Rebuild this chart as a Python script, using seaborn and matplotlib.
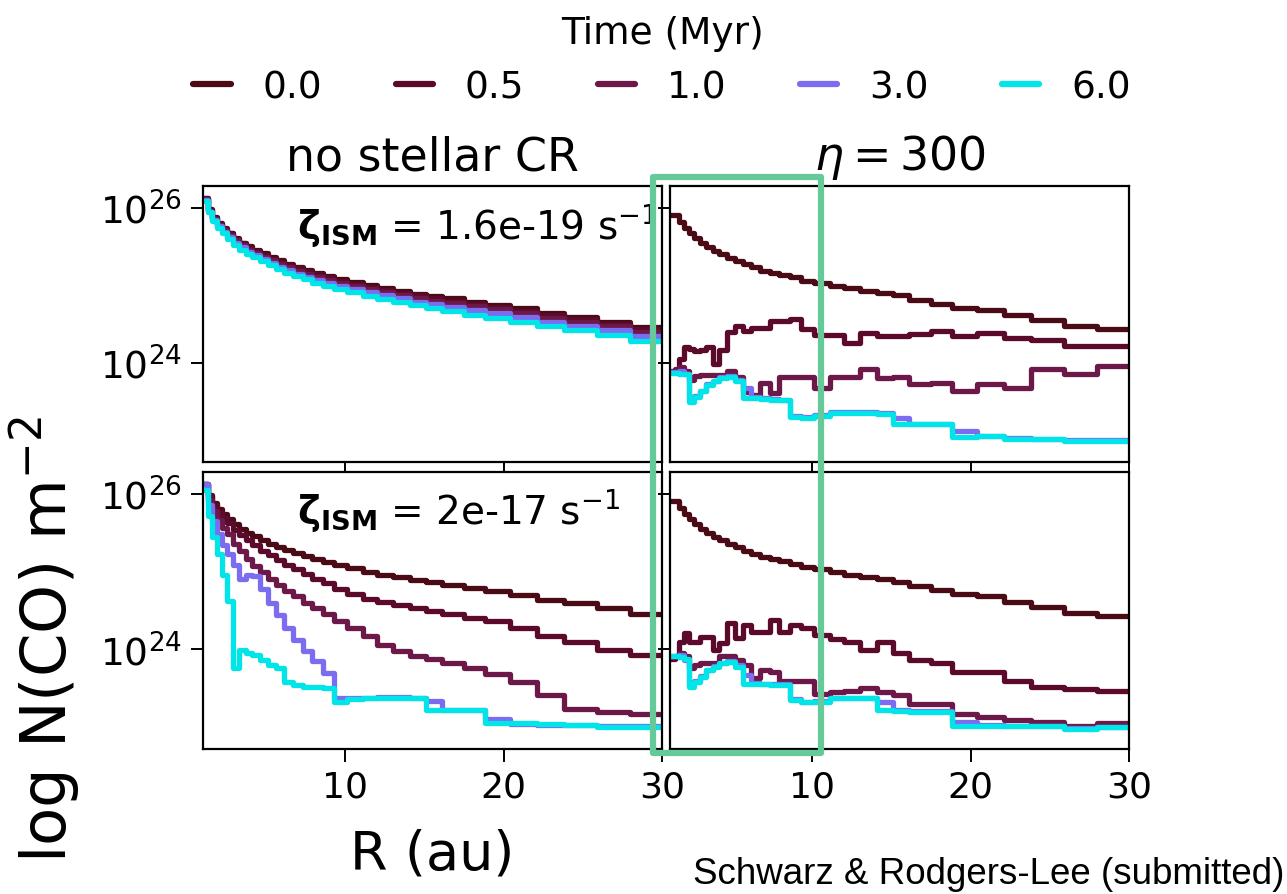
from __future__ import annotations

import matplotlib

matplotlib.use("Agg")
import matplotlib.pyplot as plt
import numpy as np
import pandas as pd
import seaborn as sns
from matplotlib.patches import Rectangle
from matplotlib.ticker import NullLocator


# radial bin edges (au), shared by every curve
R_AU = [1.0, 1.3, 1.6, 1.9, 2.2, 2.5, 2.9, 3.3, 3.7, 4.1, 4.6, 5.1, 5.6, 6.1, 6.7,
        7.3, 7.9, 8.6, 9.3, 10.1, 11.1, 12.0, 13.0, 14.1, 15.1, 16.1, 17.5, 18.8,
        20.4, 22.1, 23.8, 25.9, 28.0, 30.0]

TIMES = ["0.0", "0.5", "1.0", "3.0", "6.0"]
COLORS = ["#4a0a16", "#5c0a2c", "#6c1848", "#7b6cf0", "#00e5e8"]

# log10 N(CO) [m^-2] -- no stellar CR, zeta_ISM = 1.6e-19
nocr_low_00 = [26.12, 25.98, 25.88, 25.80, 25.74, 25.68, 25.61, 25.55, 25.50, 25.46, 25.41, 25.36, 25.32, 25.28, 25.24, 25.20, 25.16, 25.12, 25.08, 25.04, 25.00, 24.96, 24.93, 24.89, 24.86, 24.83, 24.79, 24.75, 24.70, 24.64, 24.59, 24.53, 24.46, 24.46]
nocr_low_05 = [26.12, 25.97, 25.87, 25.79, 25.73, 25.67, 25.60, 25.54, 25.48, 25.44, 25.39, 25.34, 25.30, 25.26, 25.22, 25.18, 25.14, 25.10, 25.06, 25.02, 24.98, 24.94, 24.90, 24.87, 24.84, 24.80, 24.76, 24.72, 24.67, 24.61, 24.56, 24.50, 24.43, 24.43]
nocr_low_10 = [26.11, 25.96, 25.86, 25.78, 25.71, 25.65, 25.58, 25.52, 25.46, 25.42, 25.37, 25.32, 25.27, 25.23, 25.19, 25.15, 25.11, 25.07, 25.03, 24.99, 24.95, 24.91, 24.87, 24.84, 24.80, 24.77, 24.73, 24.69, 24.64, 24.58, 24.53, 24.47, 24.40, 24.40]
nocr_low_30 = [26.10, 25.95, 25.84, 25.76, 25.69, 25.62, 25.55, 25.49, 25.43, 25.39, 25.34, 25.29, 25.24, 25.20, 25.15, 25.11, 25.07, 25.03, 24.99, 24.95, 24.91, 24.87, 24.83, 24.79, 24.76, 24.72, 24.68, 24.64, 24.59, 24.53, 24.48, 24.42, 24.35, 24.35]
nocr_low_60 = [26.09, 25.94, 25.83, 25.74, 25.67, 25.60, 25.52, 25.46, 25.40, 25.36, 25.31, 25.26, 25.21, 25.16, 25.12, 25.08, 25.03, 24.99, 24.95, 24.91, 24.86, 24.82, 24.78, 24.74, 24.70, 24.67, 24.62, 24.58, 24.53, 24.47, 24.42, 24.36, 24.28, 24.28]

# no stellar CR, zeta_ISM = 2e-17
nocr_high_00 = [26.12, 25.98, 25.88, 25.80, 25.74, 25.68, 25.61, 25.55, 25.50, 25.46, 25.41, 25.36, 25.32, 25.28, 25.24, 25.20, 25.16, 25.12, 25.08, 25.04, 25.00, 24.96, 24.93, 24.89, 24.86, 24.83, 24.79, 24.75, 24.70, 24.64, 24.59, 24.53, 24.46, 24.46]
nocr_high_05 = [26.12, 25.97, 25.86, 25.77, 25.69, 25.62, 25.54, 25.47, 25.40, 25.34, 25.27, 25.21, 25.15, 25.09, 25.03, 24.97, 24.91, 24.85, 24.78, 24.71, 24.65, 24.61, 24.57, 24.53, 24.49, 24.46, 24.41, 24.36, 24.27, 24.17, 24.09, 23.99, 23.93, 23.93]
nocr_high_10 = [26.12, 25.92, 25.78, 25.66, 25.56, 25.48, 25.36, 25.26, 25.16, 25.07, 24.99, 24.91, 24.83, 24.75, 24.68, 24.60, 24.53, 24.45, 24.36, 24.28, 24.17, 24.06, 23.98, 23.92, 23.88, 23.83, 23.76, 23.69, 23.58, 23.42, 23.24, 23.20, 23.17, 23.17]
nocr_high_30 = [26.12, 25.85, 25.65, 25.48, 25.34, 25.22, 25.08, 24.90, 24.96, 24.94, 24.77, 24.60, 24.44, 24.28, 24.12, 23.98, 23.85, 23.70, 23.37, 23.38, 23.38, 23.39, 23.39, 23.38, 23.34, 23.22, 23.22, 23.11, 23.04, 23.03, 23.03, 23.01, 23.01, 23.01]
nocr_high_60 = [26.05, 25.72, 25.45, 25.22, 24.95, 24.62, 23.76, 23.99, 23.96, 23.93, 23.87, 23.80, 23.76, 23.58, 23.54, 23.52, 23.52, 23.50, 23.33, 23.36, 23.37, 23.38, 23.38, 23.37, 23.22, 23.22, 23.22, 23.05, 23.05, 23.04, 23.03, 23.00, 23.00, 23.00]

# eta = 300, zeta_ISM = 1.6e-19
eta_low_00 = [25.91, 25.91, 25.82, 25.74, 25.67, 25.61, 25.55, 25.49, 25.44, 25.40, 25.35, 25.31, 25.27, 25.23, 25.19, 25.16, 25.13, 25.10, 25.06, 25.03, 24.99, 24.96, 24.93, 24.90, 24.87, 24.81, 24.76, 24.71, 24.68, 24.61, 24.55, 24.47, 24.43, 24.43]
eta_low_05 = [23.88, 23.90, 24.05, 24.20, 24.18, 24.15, 24.17, 24.20, 23.98, 24.16, 24.40, 24.48, 24.41, 24.45, 24.45, 24.54, 24.54, 24.56, 24.43, 24.36, 24.36, 24.25, 24.39, 24.34, 24.35, 24.37, 24.41, 24.35, 24.39, 24.32, 24.30, 24.22, 24.22, 24.22]
eta_low_10 = [23.90, 23.92, 23.95, 23.90, 23.78, 23.83, 23.84, 23.84, 23.84, 23.84, 23.90, 23.82, 23.62, 23.59, 23.74, 23.61, 23.81, 23.81, 23.81, 23.68, 23.81, 23.81, 23.92, 23.80, 23.81, 23.72, 23.74, 23.64, 23.73, 23.67, 23.92, 23.85, 23.96, 23.96]
eta_low_30 = [23.88, 23.88, 23.90, 23.85, 23.55, 23.57, 23.64, 23.72, 23.77, 23.81, 23.83, 23.78, 23.68, 23.56, 23.54, 23.53, 23.52, 23.31, 23.30, 23.32, 23.36, 23.36, 23.36, 23.35, 23.29, 23.21, 23.21, 23.12, 23.06, 23.03, 23.02, 23.00, 23.00, 23.00]
eta_low_60 = [23.87, 23.87, 23.86, 23.85, 23.50, 23.56, 23.63, 23.71, 23.76, 23.80, 23.82, 23.76, 23.55, 23.55, 23.53, 23.52, 23.52, 23.30, 23.29, 23.31, 23.35, 23.35, 23.35, 23.34, 23.21, 23.21, 23.21, 23.04, 23.06, 23.02, 23.02, 22.99, 22.99, 22.99]

# eta = 300, zeta_ISM = 2e-17
eta_high_00 = [25.91, 25.91, 25.82, 25.74, 25.67, 25.61, 25.55, 25.49, 25.44, 25.40, 25.35, 25.31, 25.27, 25.23, 25.19, 25.16, 25.13, 25.10, 25.06, 25.03, 24.99, 24.96, 24.93, 24.90, 24.87, 24.81, 24.76, 24.71, 24.68, 24.61, 24.55, 24.47, 24.43, 24.43]
eta_high_05 = [23.88, 23.90, 24.10, 24.21, 24.10, 24.10, 24.16, 24.16, 23.99, 24.08, 24.34, 24.15, 24.31, 24.23, 24.23, 24.38, 24.23, 24.32, 24.28, 24.18, 24.13, 24.10, 23.99, 24.10, 23.95, 23.86, 23.83, 23.71, 23.71, 23.59, 23.52, 23.49, 23.46, 23.46]
eta_high_10 = [23.90, 23.92, 23.96, 23.92, 23.76, 23.80, 23.82, 23.82, 23.82, 23.91, 23.91, 23.87, 23.80, 23.63, 23.73, 23.71, 23.60, 23.60, 23.60, 23.43, 23.45, 23.46, 23.50, 23.45, 23.41, 23.30, 23.30, 23.17, 23.13, 23.09, 23.07, 23.02, 23.05, 23.05]
eta_high_30 = [23.92, 23.92, 23.93, 23.86, 23.56, 23.59, 23.66, 23.74, 23.79, 23.83, 23.85, 23.80, 23.67, 23.57, 23.56, 23.55, 23.55, 23.36, 23.33, 23.34, 23.38, 23.38, 23.38, 23.32, 23.22, 23.21, 23.21, 23.07, 23.03, 23.02, 23.01, 22.99, 23.00, 23.00]
eta_high_60 = [23.91, 23.91, 23.90, 23.88, 23.52, 23.58, 23.65, 23.73, 23.78, 23.82, 23.84, 23.78, 23.56, 23.56, 23.55, 23.54, 23.54, 23.35, 23.32, 23.33, 23.37, 23.37, 23.37, 23.22, 23.21, 23.20, 23.20, 23.02, 23.02, 23.02, 23.01, 22.98, 23.00, 23.00]

PANELS = {
    (0, 0): [nocr_low_00, nocr_low_05, nocr_low_10, nocr_low_30, nocr_low_60],
    (1, 0): [nocr_high_00, nocr_high_05, nocr_high_10, nocr_high_30, nocr_high_60],
    (0, 1): [eta_low_00, eta_low_05, eta_low_10, eta_low_30, eta_low_60],
    (1, 1): [eta_high_00, eta_high_05, eta_high_10, eta_high_30, eta_high_60],
}


def panel_frame(series: list[list[float]]) -> pd.DataFrame:
    rows = []
    for t, vals in zip(TIMES, series):
        for r, v in zip(R_AU, vals):
            rows.append({"R": r, "N": 10.0 ** v, "time": t})
    return pd.DataFrame(rows)


def main() -> None:
    sns.set_theme(style="ticks", rc={"text.color": "black", "axes.labelcolor": "black",
                                     "xtick.color": "black", "ytick.color": "black"})
    plt.rcParams["font.family"] = ["DejaVu Sans"]
    plt.rcParams["mathtext.fontset"] = "dejavusans"

    W, H = 1287, 895
    fig = plt.figure(figsize=(W / 100, H / 100), dpi=100)
    fig.patch.set_facecolor("white")

    xs = {0: 203, 1: 670}
    ys = {0: (187, 463), 1: (473, 750)}
    width = 459
    axes = {}
    for (row, col) in PANELS:
        top, bot = ys[row]
        axes[(row, col)] = fig.add_axes(
            [xs[col] / W, 1 - bot / H, width / W, (bot - top) / H]
        )

    palette = dict(zip(TIMES, COLORS))
    for key, series in PANELS.items():
        ax = axes[key]
        sns.lineplot(
            data=panel_frame(series), x="R", y="N", hue="time", hue_order=TIMES,
            palette=palette, drawstyle="steps-post", linewidth=3.8,
            estimator=None, legend=False, ax=ax,
        )
        ax.set_yscale("log")
        ax.set_xlim(1, 30)
        ax.set_ylim(10 ** 22.72, 10 ** 26.28)
        ax.set_yticks([1e24, 1e26])
        ax.yaxis.set_minor_locator(NullLocator())
        ax.set_xticks([10, 20, 30])
        ax.set_xlabel("")
        ax.set_ylabel("")
        ax.set_facecolor("white")
        for sp in ax.spines.values():
            sp.set_color("black")
            sp.set_linewidth(1.6)
        ax.tick_params(direction="out", length=9, width=1.4, colors="black",
                       labelsize=26, pad=6)
        ax.tick_params(axis="y", labelsize=27)
        row, col = key
        if row == 0:
            ax.tick_params(labelbottom=False)
        if col == 1:
            ax.tick_params(labelleft=False)

    axes[(0, 0)].set_title("no stellar CR", fontsize=33, pad=12)
    axes[(0, 1)].set_title(r"$\eta = 300$", fontsize=33, pad=12)

    axes[(0, 0)].text(0.205, 0.86, r"$\mathbf{\zeta_{ISM}}$ = 1.6e-19 s$^{-1}$",
                      transform=axes[(0, 0)].transAxes, fontsize=28, va="center")
    axes[(1, 0)].text(0.205, 0.865, r"$\mathbf{\zeta_{ISM}}$ = 2e-17 s$^{-1}$",
                      transform=axes[(1, 0)].transAxes, fontsize=28, va="center")

    fig.text(45 / W, 1 - 640 / H, r"log N(CO) m$^{-2}$", rotation=90,
             fontsize=45, ha="center", va="center")
    fig.text(432 / W, 1 - 855 / H, "R (au)", fontsize=39, ha="center", va="center")
    fig.text(1284 / W, 1 - 875 / H, "Schwarz & Rodgers-Lee (submitted)",
             fontsize=26.5, ha="right", va="center", family=["Liberation Sans"])

    handles = [plt.Line2D([], [], color=c, lw=4.5) for c in COLORS]
    fig.legend(handles, TIMES, loc="upper center",
               bbox_to_anchor=(662 / W, 1.012), ncol=5, frameon=False,
               title="Time (Myr)", fontsize=27, title_fontsize=27,
               handlelength=1.0, handletextpad=0.85, columnspacing=1.95,
               borderaxespad=0.3)

    # highlight box across the inner 10 au of the eta = 300 column
    rect = Rectangle((653 / W, 1 - 754 / H), (821 - 653) / W, (754 - 178) / H,
                     transform=fig.transFigure, fill=False, ec="#66c999",
                     lw=4.5, joinstyle="round", zorder=20)
    fig.add_artist(rect)

    fig.savefig("out.png", dpi=100, facecolor="white")
    plt.close(fig)


if __name__ == "__main__":
    main()
